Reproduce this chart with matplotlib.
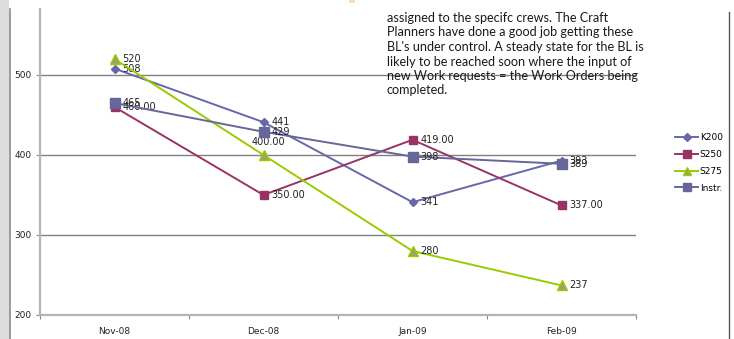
import matplotlib
matplotlib.use('Agg')
import matplotlib.pyplot as plt
from matplotlib.lines import Line2D
from matplotlib.patches import Rectangle

months = ["Nov-08", "Dec-08", "Jan-09", "Feb-09"]
k200 = [508, 441, 341, 393]
s250 = [460, 350, 419, 337]
s275 = [520, 400, 280, 237]
instr = [465, 429, 398, 389]

k200_labels = ["508", "441", "341", "393"]
s250_labels = ["460.00", "350.00", "419.00", "337.00"]
s275_labels = ["520", "400.00", "280", "237"]
instr_labels = ["465", "429", "398", "389"]

note = ("assigned to the specifc crews. The Craft\n"
        "Planners have done a good job getting these\n"
        "BL's under control. A steady state for the BL is\n"
        "likely to be reached soon where the input of\n"
        "new Work requests = the Work Orders being\n"
        "completed.")

W, H = 734, 339
fig = plt.figure(figsize=(W / 100, H / 100), dpi=100)
ax = fig.add_axes([40 / W, 1 - 315 / H, 596 / W, 306 / H])

x = list(range(len(months)))
series = [
    ("K200", k200, k200_labels, "#6767a9", "D", 4.5, "#6767a9"),
    ("S250", s250, s250_labels, "#993366", "s", 6, "#993366"),
    ("S275", s275, s275_labels, "#99cc00", "^", 7, "#9ca36a"),
    ("Instr.", instr, instr_labels, "#666699", "s", 7, "#666699"),
]
for name, vals, labs, col, mk, ms, fc in series:
    ax.plot(x, vals, color=col, lw=1.4, marker=mk, ms=ms, mfc=fc, mec=col,
            label=name, zorder=3)
    for xi, v, lab in zip(x, vals, labs):
        if name == "S275" and lab == "400.00":
            ax.annotate(lab, (xi, v), xytext=(5, 13), textcoords="offset pixels",
                        ha="center", va="center", fontsize=7, color="#222222")
        else:
            ax.annotate(lab, (xi, v), xytext=(8, 0), textcoords="offset pixels",
                        ha="left", va="center", fontsize=7, color="#222222")

ax.set_xlim(-0.5, 3.5)
ax.set_ylim(200, 582.5)
ax.set_yticks([200, 300, 400, 500])
ax.set_xticks([-0.5, 0.5, 1.5, 2.5, 3.5])
ax.set_xticklabels([])
ax.set_xticks(x, minor=True)
ax.set_xticklabels(months, minor=True)
ax.tick_params(axis="x", which="minor", length=0, labelsize=6.5, pad=9, colors="#222222")
ax.tick_params(axis="x", which="major", length=3, color="#888888", direction="out")
ax.tick_params(axis="y", length=3, color="#888888", labelcolor="#222222",
               labelsize=6.5, pad=3)
ax.grid(axis="y", color="#808080", lw=1.0, zorder=1)
for s in ["top", "right"]:
    ax.spines[s].set_visible(False)
ax.spines["left"].set_color("#b4b4b4")
ax.spines["left"].set_linewidth(1.6)
ax.spines["bottom"].set_color("#b4b4b4")
ax.spines["bottom"].set_linewidth(1.6)

ax.legend(loc="center left", bbox_to_anchor=(675 / W, 1 - 163 / H),
          bbox_transform=fig.transFigure, frameon=False, fontsize=6.5,
          handlelength=2.6, handletextpad=0.15, labelspacing=0.85,
          borderaxespad=0, borderpad=0, markerscale=0.85)

fig.text(387 / W, 1 - 12 / H, note, ha="left", va="top", fontsize=9.1,
         family="Lato", color="#1a1a1a", linespacing=1.25)

# frame decorations from the original page
fig.add_artist(Rectangle((0, 0), 9 / W, 1, transform=fig.transFigure,
                         color="#dcdcdc", lw=0))
fig.add_artist(Line2D([10 / W, 10 / W], [0, 1 - 9 / H], transform=fig.transFigure,
                      color="#8a8a8a", lw=1.2))
fig.add_artist(Line2D([729 / W, 729 / W], [0, 1 - 12 / H], transform=fig.transFigure,
                      color="#555555", lw=1.0))
fig.add_artist(Rectangle((349 / W, 1 - 3 / H), 6 / W, 3 / H, transform=fig.transFigure,
                         color="#f9d9b8", lw=0))

fig.savefig("out.png", dpi=100)
